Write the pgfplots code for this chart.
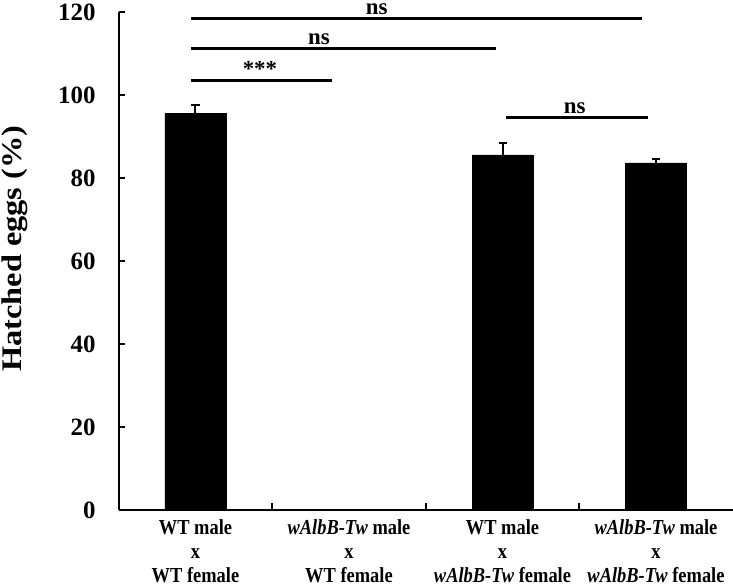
\documentclass[border=0pt]{standalone}
\usepackage{pgfplots}
\pgfplotsset{compat=1.18}
\usepackage{fontspec}
\setmainfont{Liberation Serif}
\usetikzlibrary{calc}
\newcommand\xl[3]{\scalebox{1}[1.16]{\begin{tabular}{@{}c@{}}#1\\#2\\#3\end{tabular}}}
\begin{document}
\begin{tikzpicture}
\begin{axis}[name=ax, scale only axis, width=614bp, height=497.7bp,
 xmin=-0.5, xmax=3.5, ymin=0, ymax=120, clip=false,
 axis x line*=bottom, axis y line*=left,
 axis line style={-, line width=2bp, black},
 tick align=inside, major tick length=6.5bp,
 tick style={line width=2bp, black},
 xtick={0.5,1.5,2.5}, xticklabels={},
 extra x ticks={0,1,2,3},
 extra x tick labels={\xl{WT male}{x}{WT female},\xl{\textit{wAlbB-Tw} male}{x}{WT female},\xl{WT male}{x}{\textit{wAlbB-Tw} female},\xl{\textit{wAlbB-Tw} male}{x}{\textit{wAlbB-Tw} female}},
 extra x tick style={tick style={draw=none},
   tick label style={font=\fontsize{18.5}{20.8}\selectfont\bfseries, anchor=north, inner sep=0pt, yshift=-7.5bp}},
 ytick={0,20,40,60,80,100,120},
 yticklabels={0,20,40,60,80,100,120},
 yticklabel style={font=\fontsize{25}{30}\selectfont\bfseries, inner sep=0pt, anchor=east, xshift=-23bp},
]
\addplot[ybar, bar width=61bp, fill=black, draw=black,
  error bars/.cd, y dir=plus, y explicit,
  error bar style={line width=2bp, black},
  error mark options={rotate=90, mark size=4bp, line width=2bp, black}]
  table[x=x, y=y, y error=e] {
x y e
0 95.6 2.0
2 85.6 3.0
3 83.7 1.0
};
% significance lines
\draw[line width=3bp] (axis cs:-0.03,118.6) -- (axis cs:2.91,118.6);
\draw[line width=3bp] (axis cs:-0.03,111.2) -- (axis cs:1.96,111.2);
\draw[line width=3bp] (axis cs:-0.03,103.6) -- (axis cs:0.887,103.6);
\draw[line width=3bp] (axis cs:2.02,94.7) -- (axis cs:2.946,94.7);
\begin{scope}[every node/.style={anchor=base, inner sep=0pt, font=\fontsize{23}{27}\selectfont\bfseries}]
\node at (axis cs:1.18,118.6) [yshift=3.5bp] {ns};
\node at (axis cs:0.805,111.2) [yshift=4bp] {ns};
\node at (axis cs:0.42,103.6) [yshift=4bp] {***};
\node at (axis cs:2.47,94.7) [yshift=4bp] {ns};
\end{scope}
\node[rotate=90, anchor=base, inner sep=0pt, font=\fontsize{28.5}{32}\selectfont\bfseries]
  at (rel axis cs:-0.158,0.525) {\scalebox{1.14}[1]{Hatched eggs (\%)}};
\end{axis}
\pgfresetboundingbox
\path[use as bounding box] ($(ax.south west)+(-118.75bp,-78bp)$) rectangle ($(ax.south west)+(614.25bp,510bp)$);
\end{tikzpicture}
\end{document}
